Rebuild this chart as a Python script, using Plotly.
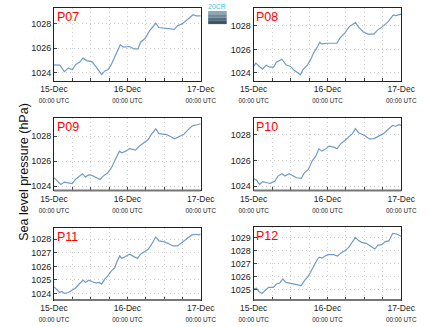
import plotly.graph_objects as go

# ---- data (hours after 15-Dec 00:00 UTC, sea level pressure hPa) ----
names = ["P07", "P08", "P09", "P10", "P11", "P12"]

t_p07 = [0, 1.9, 3.4, 4.7, 6, 7, 8.5, 9.5, 10.7, 12.5, 14, 15.6, 16.6, 17.6, 18.6, 20.2, 21.7, 22.7, 24.7, 26.2, 27.5, 28.3, 29.8, 31.3, 33.3, 34.3, 36.9, 39.4, 40.4, 41.9, 43.4, 45.5, 46.5, 48]
p_p07 = [1024.65, 1024.63, 1024.1, 1024.4, 1024.25, 1024.65, 1024.9, 1025.2, 1025.0, 1024.9, 1024.4, 1023.85, 1024.15, 1024.25, 1024.6, 1025.45, 1026.3, 1026.1, 1026.15, 1025.95, 1025.95, 1026.5, 1026.8, 1027.45, 1028.05, 1027.7, 1027.65, 1027.55, 1027.85, 1028.0, 1028.3, 1028.75, 1028.65, 1028.65]

t_p08 = [0, 0.7, 1.9, 2.9, 4.1, 5.2, 6.5, 7.4, 9.2, 10.5, 12, 13, 14.2, 15.2, 16, 17.5, 18.5, 19.5, 20.8, 21.5, 22, 24, 27.1, 28, 29.6, 31.1, 33.1, 34.1, 35.6, 37.1, 39.1, 40.1, 42.2, 43.7, 45.4, 46.2, 48]
p_p08 = [1024.54, 1024.82, 1024.54, 1024.31, 1024.65, 1024.48, 1024.48, 1024.9, 1025.16, 1024.68, 1024.54, 1024.25, 1024.03, 1023.83, 1024.25, 1024.68, 1025.1, 1025.7, 1026.24, 1026.6, 1026.47, 1026.52, 1026.52, 1026.95, 1027.38, 1027.94, 1028.28, 1027.9, 1027.5, 1027.3, 1027.3, 1027.6, 1028.0, 1028.37, 1028.94, 1028.88, 1029.0]

t_p09 = [0, 0.9, 2.2, 3.4, 5, 6, 7, 8.5, 9.3, 10.3, 11.3, 12.5, 13.8, 15.1, 16.1, 17.6, 18.8, 20.2, 21.4, 22.2, 23.5, 24.7, 26.7, 27.7, 29.3, 30.8, 31.8, 33.3, 34.3, 36.9, 39.4, 40.9, 42.4, 43.9, 45.4, 46.9, 48]
p_p09 = [1024.67, 1024.48, 1024.13, 1024.32, 1024.27, 1024.2, 1024.53, 1024.8, 1024.99, 1024.72, 1024.9, 1024.85, 1024.67, 1024.53, 1024.8, 1025.07, 1025.47, 1026.13, 1026.8, 1026.67, 1026.8, 1027.01, 1026.88, 1027.15, 1027.47, 1027.73, 1028.13, 1028.59, 1028.21, 1028.13, 1027.79, 1027.95, 1028.13, 1028.53, 1028.85, 1028.92, 1029.0]

t_p10 = [0, 0.9, 1.9, 2.9, 4.4, 5.4, 6.9, 7.9, 9.2, 10.2, 11.5, 12.8, 14, 15.5, 16.5, 17.8, 19, 20.2, 21.2, 22.2, 23.5, 24.5, 26.1, 27.1, 28.3, 29.6, 31.1, 32.1, 33.1, 34.1, 36.1, 37.6, 39.1, 40.7, 42.2, 43.7, 45.2, 46.2, 47.2, 48]
p_p10 = [1024.6, 1024.47, 1024.13, 1024.34, 1024.26, 1024.21, 1024.39, 1024.78, 1024.96, 1024.78, 1024.96, 1024.83, 1024.65, 1024.6, 1025.04, 1025.3, 1025.95, 1026.34, 1026.91, 1026.73, 1026.91, 1027.12, 1027.04, 1026.91, 1027.3, 1027.56, 1027.84, 1028.1, 1028.49, 1028.16, 1027.95, 1027.69, 1027.71, 1027.9, 1028.1, 1028.42, 1028.75, 1028.68, 1028.8, 1028.75]

t_p11 = [0, 0.9, 1.9, 2.6, 3.4, 4.7, 6, 7, 8, 8.7, 9.5, 10.3, 11.3, 12.6, 13.8, 14.8, 15.6, 16.6, 17.6, 18.8, 19.9, 20.7, 21.5, 22.2, 23.5, 24.7, 26.3, 27.3, 28.3, 29.6, 30.8, 31.8, 33.3, 34.3, 35.8, 37.3, 38.9, 40.4, 41.4, 42.7, 43.9, 45.1, 46.5, 47.2, 48]
p_p11 = [1024.49, 1024.32, 1024.07, 1024.15, 1024.0, 1024.07, 1024.25, 1024.39, 1024.64, 1024.81, 1024.98, 1024.81, 1024.98, 1024.86, 1024.76, 1024.81, 1024.69, 1025.06, 1025.3, 1025.67, 1025.91, 1026.4, 1026.77, 1026.58, 1026.72, 1026.9, 1026.7, 1026.58, 1026.9, 1027.09, 1027.26, 1027.58, 1028.17, 1027.88, 1027.83, 1027.7, 1027.51, 1027.51, 1027.68, 1027.88, 1028.07, 1028.32, 1028.37, 1028.32, 1028.37]

t_p12 = [0, 0.9, 1.7, 2.7, 3.9, 4.9, 6.4, 7.4, 8.5, 9.5, 10.5, 12, 13.5, 14.5, 15.5, 16.5, 17.5, 18.5, 19.5, 20.5, 21.3, 22.2, 23.2, 24.2, 26, 27.3, 28.3, 29.6, 30.9, 32.1, 33.1, 34.1, 35.1, 36.6, 38.1, 39.4, 40.4, 41.7, 42.7, 44, 45.2, 46.4, 48]
p_p12 = [1025.03, 1025.1, 1024.84, 1024.68, 1024.95, 1025.16, 1025.16, 1025.42, 1025.5, 1025.81, 1025.55, 1025.47, 1025.42, 1025.34, 1025.29, 1025.68, 1025.94, 1026.33, 1026.86, 1027.25, 1027.51, 1027.43, 1027.6, 1027.7, 1027.7, 1027.6, 1027.82, 1028.0, 1028.27, 1028.66, 1029.05, 1028.8, 1028.66, 1028.58, 1028.35, 1028.14, 1028.45, 1028.48, 1028.7, 1028.79, 1029.36, 1029.31, 1029.13]

times = [t_p07, t_p08, t_p09, t_p10, t_p11, t_p12]
values = [p_p07, p_p08, p_p09, p_p10, p_p11, p_p12]
y_ranges = [[1023.35, 1029.3], [1023.32, 1029.53], [1023.65, 1029.49],
            [1023.66, 1029.35], [1023.51, 1028.81], [1024.17, 1029.83]]
y_dticks = [2, 2, 2, 2, 1, 1]

x_tickvals = [0, 6, 12, 18, 24, 30, 36, 42, 48]
x_labels = ["15-Dec", "16-Dec", "17-Dec"]

# ---- layout ----
W, H = 434, 327
boxes = [  # (x0, x1, ytop, ybottom) in pixels
    (42, 200, 8, 81), (257, 416, 8, 81),
    (42, 200, 118, 191), (257, 416, 118, 191),
    (42, 200, 229, 301), (257, 416, 228, 301),
]

FONT = "Liberation Sans, Arial, sans-serif"
sub = "<br><span style='font-size:6.3px'>00:00 UTC</span>"
ticktext = []
for v in x_tickvals:
    if v % 24 == 0:
        ticktext.append(x_labels[v // 24] + sub)
    else:
        ticktext.append("")

fig = go.Figure()
layout = dict(
    width=W, height=H, margin=dict(l=0, r=0, t=0, b=0),
    paper_bgcolor="white", plot_bgcolor="white", showlegend=False,
    font=dict(family=FONT, color="#222", size=9),
)
annotations = []
shapes = []
GRID = "#cfcfcf"
for i in range(6):
    n = i + 1
    xa = "xaxis" if n == 1 else f"xaxis{n}"
    ya = "yaxis" if n == 1 else f"yaxis{n}"
    xr = "x" if n == 1 else f"x{n}"
    yr = "y" if n == 1 else f"y{n}"
    x0, x1, yt, yb = boxes[i]
    layout[xa] = dict(
        domain=[x0 / W, x1 / W], anchor=yr, range=[0, 48],
        tickvals=x_tickvals, ticktext=ticktext, ticks="inside", ticklen=3,
        tickcolor="#444", showline=True, linecolor="#222", linewidth=1, mirror=True,
        showgrid=True, gridcolor=GRID, griddash="1px,3px", gridwidth=1,
        zeroline=False, tickfont=dict(size=8.5, color="#222"), tickangle=0,
    )
    layout[ya] = dict(
        domain=[1 - yb / H, 1 - yt / H], anchor=xr, range=y_ranges[i],
        dtick=y_dticks[i], tick0=1020, ticks="inside", ticklen=3, tickcolor="#444",
        showline=True, linecolor="#222", linewidth=1, mirror=True,
        showgrid=True, gridcolor=GRID, griddash="1px,3px", gridwidth=1,
        zeroline=False, tickfont=dict(size=9, color="#222"),
    )
    fig.add_trace(go.Scatter(
        x=times[i], y=values[i], mode="lines", xaxis=xr, yaxis=yr,
        line=dict(color="#6f9cc8", width=1.2), hoverinfo="skip",
    ))
    annotations.append(dict(
        text=names[i], xref=f"{xr} domain", yref=f"{yr} domain",
        x=0.005, y=1.0, xanchor="left", yanchor="top", showarrow=False,
        font=dict(size=12.5, color="#ff0000", family=FONT),
    ))
    if i >= 2:
        shapes.append(dict(type="line", xref=f"{xr} domain", yref=f"{yr} domain",
                           x0=0, x1=1, y0=0, y1=0,
                           line=dict(color="#777", width=2)))

annotations.append(dict(
    text="Sea level pressure (hPa)", xref="paper", yref="paper",
    x=10 / W, y=1 - 172 / H, textangle=-90, showarrow=False,
    xanchor="center", yanchor="middle", font=dict(size=12.5, color="#111", family=FONT),
))
# small logo
logo_cols = ["#8fa7b2", "#6f8b98", "#566f7d", "#3f5563"]
for k, c in enumerate(logo_cols):
    shapes.append(dict(type="rect", xref="paper", yref="paper",
                       x0=208 / W, x1=228 / W,
                       y0=1 - (11 + 3.3 * (k + 1)) / H, y1=1 - (11 + 3.3 * k) / H,
                       fillcolor=c, line=dict(width=0)))
annotations.append(dict(
    text="20CR", xref="paper", yref="paper", x=218 / W, y=1 - 6.5 / H,
    xanchor="center", yanchor="middle", showarrow=False,
    font=dict(size=7, color="#3cc4d8", family=FONT),
))
layout["annotations"] = annotations
layout["shapes"] = shapes
fig.update_layout(**layout)
fig.write_html("out.html")
